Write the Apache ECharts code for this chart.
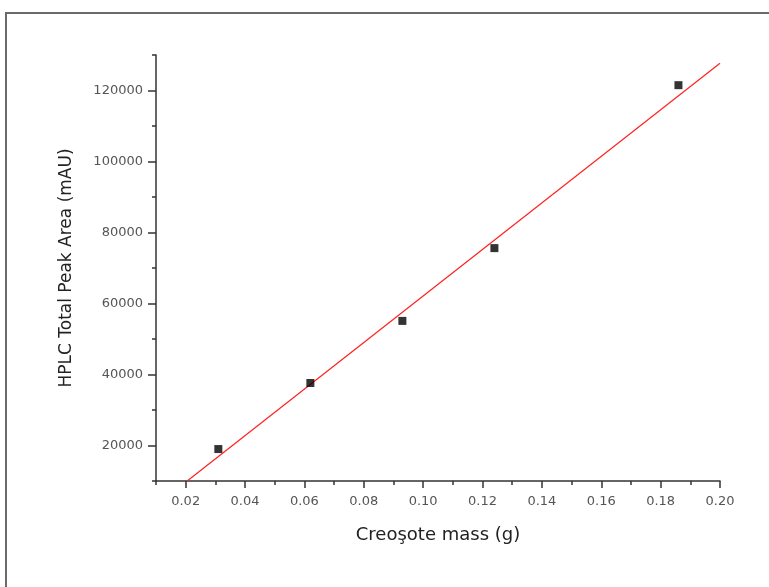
<!DOCTYPE html>
<html>
<head>
<meta charset="utf-8">
<script src="https://cdn.jsdelivr.net/npm/echarts@6.0.0/dist/echarts.min.js"></script>
<style>
    html, body { margin: 0; padding: 0; background: #fff; }
    #main { width: 769px; height: 587px; }
</style>
</head>
<body>
<div id="main"></div>
<script>
// measured points
var massData = [0.031, 0.062, 0.093, 0.124, 0.186];
var areaData = [19000, 37600, 55100, 75600, 121500];

// ends of the red fit line
var fitMass = [0.0205, 0.200];
var fitArea = [10000, 127700];

// tick values
var xMajorTicks = [0.02, 0.04, 0.06, 0.08, 0.10, 0.12, 0.14, 0.16, 0.18, 0.20];
var xMinorTicks = [0.01, 0.03, 0.05, 0.07, 0.09, 0.11, 0.13, 0.15, 0.17, 0.19];
var yMajorTicks = [20000, 40000, 60000, 80000, 100000, 120000];
var yMinorTicks = [10000, 30000, 50000, 70000, 90000, 110000, 130000];

var myChart = echarts.init(document.getElementById('main'));

var pts = [];
for (var i = 0; i < massData.length; i++) {
    pts.push([massData[i], areaData[i]]);
}
var fit = [];
for (var j = 0; j < fitMass.length; j++) {
    fit.push([fitMass[j], fitArea[j]]);
}

var axisColor = '#333';
var labelFont = {
    color: '#555',
    fontFamily: 'DejaVu Sans',
    fontSize: 13
};

var option = {
    animation: false,
    backgroundColor: '#fff',
    graphic: [{
        type: 'rect',
        shape: { x: 6, y: 13, width: 900, height: 700 },
        style: { fill: 'none', stroke: '#6a6a6a', lineWidth: 2 },
        silent: true
    }],
    grid: {
        left: 156,
        right: 49,
        top: 55,
        bottom: 106
    },
    xAxis: [{
        type: 'value',
        min: 0.01,
        max: 0.20,
        position: 'bottom',
        name: 'Creoşote mass (g)',
        nameLocation: 'middle',
        nameGap: 45,
        nameTextStyle: {
            color: '#222',
            fontFamily: 'DejaVu Sans',
            fontSize: 18
        },
        axisLine: { lineStyle: { color: axisColor, width: 1.5 } },
        axisTick: {
            customValues: xMajorTicks,
            length: 7,
            lineStyle: { color: axisColor, width: 1.5 }
        },
        axisLabel: Object.assign({
            customValues: xMajorTicks,
            margin: 14,
            formatter: function (v) { return v.toFixed(2); }
        }, labelFont),
        splitLine: { show: false }
    }, {
        type: 'value',
        min: 0.01,
        max: 0.20,
        position: 'bottom',
        axisLine: { show: false },
        axisTick: {
            customValues: xMinorTicks,
            length: 4,
            lineStyle: { color: axisColor, width: 1.5 }
        },
        axisLabel: { show: false },
        splitLine: { show: false }
    }],
    yAxis: [{
        type: 'value',
        min: 10000,
        max: 130000,
        position: 'left',
        name: 'HPLC Total Peak Area (mAU)',
        nameLocation: 'middle',
        nameGap: 81,
        nameTextStyle: {
            color: '#222',
            fontFamily: 'DejaVu Sans',
            fontSize: 17
        },
        axisLine: { show: true, lineStyle: { color: axisColor, width: 1.5 } },
        axisTick: {
            show: true,
            customValues: yMajorTicks,
            length: 8,
            lineStyle: { color: axisColor, width: 1.5 }
        },
        axisLabel: Object.assign({
            customValues: yMajorTicks,
            margin: 13,
            formatter: function (v) { return String(v); }
        }, labelFont),
        splitLine: { show: false }
    }, {
        type: 'value',
        min: 10000,
        max: 130000,
        position: 'left',
        axisLine: { show: false },
        axisTick: {
            show: true,
            customValues: yMinorTicks,
            length: 4,
            lineStyle: { color: axisColor, width: 1.5 }
        },
        axisLabel: { show: false },
        splitLine: { show: false }
    }],
    series: [{
        name: 'fit',
        type: 'line',
        data: fit,
        showSymbol: false,
        symbol: 'none',
        lineStyle: { color: '#ff2020', width: 1.2 },
        z: 2
    }, {
        name: 'data',
        type: 'scatter',
        data: pts,
        symbol: 'rect',
        symbolSize: 8,
        itemStyle: { color: '#000' },
        z: 3
    }]
};

myChart.setOption(option);
</script>
</body>
</html>
